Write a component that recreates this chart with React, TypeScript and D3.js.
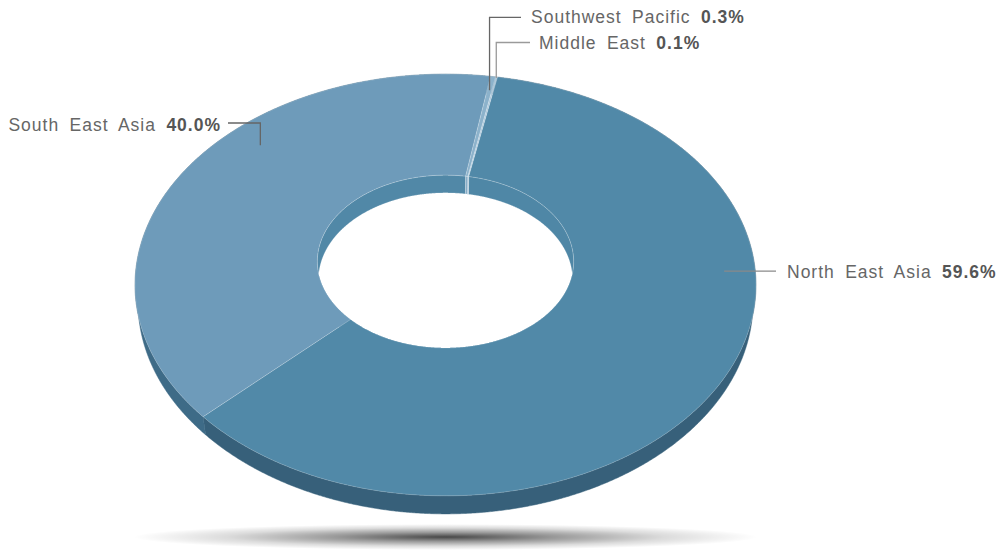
import React from "react";
import * as d3 from "d3";

// ---- data ----
const categories = ["North East Asia", "South East Asia", "Southwest Pacific", "Middle East"];
const values = [59.6, 40.0, 0.3, 0.1];
const topColors = ["#5189a8", "#6e9bba", "#8cb2cb", "#a9c6da"];
const sideColors = ["#37607a", "#3e6b87", "#587d95", "#6a8ca3"];
const innerColors = ["#4f87a6", "#5188a7", "#86acc6", "#a2c0d5"];

// ---- layout ----
const W = 1008, H = 550;
const CX = 445.5, CY = 256.7;
const R = 307.7, RIN = 128;
const ALPHA = (42.3 * Math.PI) / 180;
const DIST = 1697;
const DEPTH = 24.5;
const START = 11; // degrees, clockwise from top

const sA = Math.sin(ALPHA), cA = Math.cos(ALPHA);
function proj(thetaDeg: number, rho: number, h: number): [number, number] {
  const t = (thetaDeg * Math.PI) / 180;
  const X = rho * Math.sin(t);
  const Z = rho * Math.cos(t);
  const yv = Z * sA + h * cA;
  const zv = Z * cA - h * sA;
  const sc = DIST / (DIST + zv);
  return [CX + X * sc, CY - yv * sc];
}

function samples(a: number, b: number): number[] {
  const n = Math.max(2, Math.ceil(Math.abs(b - a) / 0.25));
  return d3.range(n + 1).map((i) => a + ((b - a) * i) / n);
}

const line = d3.line<[number, number]>().x((d) => d[0]).y((d) => d[1]);

// label layout: anchor angle, anchor radius fraction, elbow/end positions
const labelLayout = [
  { angle: 94.4, rf: 0.9, side: "right", elbowY: null as number | null, endX: 776, textX: 787, baseY: 277.5 },
  { angle: 311.8, rf: 0.87, side: "left", elbowY: 123, endX: 228, textX: 221, baseY: 131 },
  { angle: null as number | null, rf: 0.915, side: "right", elbowY: 17.3, endX: 521, textX: 531, baseY: 22.7 },
  { angle: null as number | null, rf: 0.994, side: "right", elbowY: 42.5, endX: 530, textX: 539, baseY: 48.5 },
];
const lineColors = ["#8a8a8a", "#666666", "#666666", "#9a9a9a"];

export default function App() {
  const total = d3.sum(values);
  const angleScale = d3.scaleLinear().domain([0, total]).range([0, 360]);
  const cum = [0, ...d3.cumsum(values)];
  const slices = values.map((v, i) => ({
    i,
    a0: START + angleScale(cum[i]),
    a1: START + angleScale(cum[i + 1]),
  }));

  const outerWall = (a0: number, a1: number) => {
    const th = samples(a0, a1);
    const top = th.map((t) => proj(t, R, 0));
    const bot = th.slice().reverse().map((t) => proj(t, R, -DEPTH));
    return line([...top, ...bot]) + "Z";
  };
  const innerWall = (a0: number, a1: number) => {
    const th = samples(a0, a1);
    const top = th.map((t) => proj(t, RIN, 0));
    const bot = th.slice().reverse().map((t) => proj(t, RIN, -DEPTH));
    return line([...top, ...bot]) + "Z";
  };
  const topFace = (a0: number, a1: number) => {
    const th = samples(a0, a1);
    const out = th.map((t) => proj(t, R, 0));
    const inn = th.slice().reverse().map((t) => proj(t, RIN, 0));
    return line([...out, ...inn]) + "Z";
  };

  return (
    <svg width={W} height={H} style={{ position: "absolute", left: 0, top: 0 }}>
      <defs>
        <radialGradient id="shadow" cx="0.5" cy="0.5" r="0.5">
          <stop offset="0%" stopColor="#000" stopOpacity={0.72} />
          <stop offset="35%" stopColor="#000" stopOpacity={0.4} />
          <stop offset="70%" stopColor="#000" stopOpacity={0.14} />
          <stop offset="100%" stopColor="#000" stopOpacity={0} />
        </radialGradient>
      </defs>
      <rect width={W} height={H} fill="#fff" />
      <ellipse cx={CX} cy={537} rx={312} ry={13} fill="url(#shadow)" />
      {slices.map((s) => (
        <path key={"ow" + s.i} d={outerWall(s.a0, s.a1)} fill={sideColors[s.i]} stroke={sideColors[s.i]} strokeWidth={0.5} />
      ))}
      {slices.map((s) => (
        <path key={"iw" + s.i} d={innerWall(s.a0, s.a1)} fill={innerColors[s.i]} stroke="rgba(255,255,255,0.35)" strokeWidth={0.6} />
      ))}
      {slices.map((s) => (
        <path key={"tf" + s.i} d={topFace(s.a0, s.a1)} fill={topColors[s.i]} stroke="rgba(255,255,255,0.3)" strokeWidth={0.6} />
      ))}
      {slices.map((s) => {
        const L = labelLayout[s.i];
        const ang = L.angle != null ? L.angle : (s.a0 + s.a1) / 2;
        const [ax, ay] = proj(ang, R * L.rf, 0);
        let pts: [number, number][];
        if (L.elbowY == null) pts = [[ax, ay], [L.endX, ay]];
        else pts = [[ax, ay], [ax, L.elbowY], [L.endX, L.elbowY]];
        const pct = d3.format(".1f")((values[s.i] / total) * 100) + "%";
        return (
          <g key={"lb" + s.i}>
            <path d={line(pts) || ""} fill="none" stroke={lineColors[s.i]} strokeWidth={1.3} />
            <text
              x={L.textX}
              y={L.baseY}
              textAnchor={L.side === "left" ? "end" : "start"}
              fontFamily="'Liberation Sans', Arial, sans-serif"
              fontSize={17.5}
              letterSpacing={1}
              wordSpacing={4.5}
              fill="#666"
            >
              <tspan>{categories[s.i]} </tspan>
              <tspan fontWeight="bold" fill="#555">{pct}</tspan>
            </text>
          </g>
        );
      })}
    </svg>
  );
}
